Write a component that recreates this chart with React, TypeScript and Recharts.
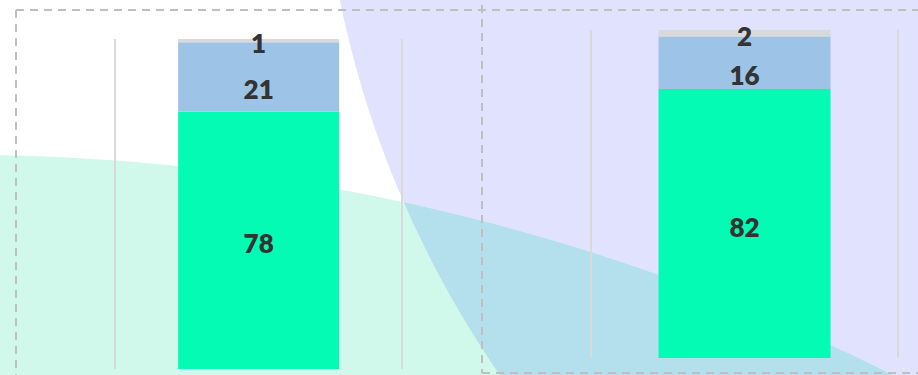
import React from "react";
import { BarChart, Bar, XAxis, YAxis, LabelList } from "recharts";

// values, one entry per panel
const panels = ["Left", "Right"];
const greenValues = [78, 82];
const blueValues = [21, 16];
const grayValues = [1, 2];

const GREEN = "#04fbb3";
const BLUE = "#9dc3e6";
const GRAY = "#d9d9d9";
const TEXT = "#333333";
const AXIS = "#d9d9d9";

// plot boxes of the two panels (page pixels)
const boxes = [
  { left: 115, top: 39, width: 287, height: 330 },
  { left: 591, top: 30, width: 307, height: 328 },
];

// label shift from segment centre, per series
const labelShift = { green: 3, blue: 12, gray: 2.5 };

const makeLabel = (dy: number) => (props: any) => {
  const vb = props.viewBox || {};
  const x = props.x ?? vb.x;
  const y = props.y ?? vb.y;
  const w = props.width ?? vb.width;
  const h = props.height ?? vb.height;
  return (
    <text
      x={x + w / 2}
      y={y + h / 2 + dy}
      textAnchor="middle"
      dominantBaseline="central"
      fill={TEXT}
      fontFamily="Lato, 'DejaVu Sans', sans-serif"
      fontWeight={800}
      fontSize={26}
    >
      {props.value}
    </text>
  );
};

function Panel({ index }: { index: number }) {
  const box = boxes[index];
  const pad = 20;
  const axisW = 1;
  const data = [
    {
      name: panels[index],
      green: greenValues[index],
      blue: blueValues[index],
      gray: grayValues[index],
    },
  ];
  const axisProps = {
    type: "number" as const,
    domain: [0, 100],
    width: axisW,
    tick: false,
    tickLine: false,
    axisLine: { stroke: AXIS, strokeWidth: 2 },
  };
  return (
    <div
      style={{
        position: "absolute",
        left: box.left - pad - axisW,
        top: box.top - pad,
      }}
    >
      <BarChart
        width={box.width + pad * 2 + axisW * 2}
        height={box.height + pad * 2}
        data={data}
        margin={{ top: pad, right: pad, bottom: pad, left: pad }}
        barCategoryGap="22%"
      >
        <XAxis dataKey="name" hide />
        <YAxis yAxisId="l" orientation="left" {...axisProps} />
        <YAxis yAxisId="r" orientation="right" {...axisProps} />
        <Bar dataKey="green" stackId="s" yAxisId="l" fill={GREEN} isAnimationActive={false}>
          <LabelList dataKey="green" content={makeLabel(labelShift.green)} />
        </Bar>
        <Bar dataKey="blue" stackId="s" yAxisId="l" fill={BLUE} isAnimationActive={false}>
          <LabelList dataKey="blue" content={makeLabel(labelShift.blue)} />
        </Bar>
        <Bar dataKey="gray" stackId="s" yAxisId="l" fill={GRAY} isAnimationActive={false}>
          <LabelList dataKey="gray" content={makeLabel(labelShift.gray)} />
        </Bar>
      </BarChart>
    </div>
  );
}

function Backdrop() {
  const dash = { stroke: "#bfbfbf", strokeWidth: 2, strokeDasharray: "8 6", fill: "none" };
  return (
    <svg width={918} height={375} style={{ position: "absolute", left: 0, top: 0 }}>
      <defs>
        <clipPath id="lav">
          <circle cx={1340} cy={-205} r={1021} />
        </clipPath>
      </defs>
      <circle cx={1340} cy={-205} r={1021} fill="#e0e2fe" />
      <circle cx={-35} cy={2221} r={2066} fill="#d0f9eb" />
      <circle cx={-35} cy={2221} r={2066} fill="#b4dfec" clipPath="url(#lav)" />
      <line x1={16} y1={10} x2={918} y2={10} {...dash} />
      <line x1={16} y1={10} x2={16} y2={375} {...dash} />
      <line x1={482} y1={5} x2={482} y2={373} {...dash} />
      <line x1={482} y1={373} x2={918} y2={373} {...dash} />
    </svg>
  );
}

export default function App() {
  return (
    <div
      style={{
        position: "absolute",
        left: 0,
        top: 0,
        width: 918,
        height: 375,
        overflow: "hidden",
        background: "#ffffff",
      }}
    >
      <Backdrop />
      <Panel index={0} />
      <Panel index={1} />
    </div>
  );
}
